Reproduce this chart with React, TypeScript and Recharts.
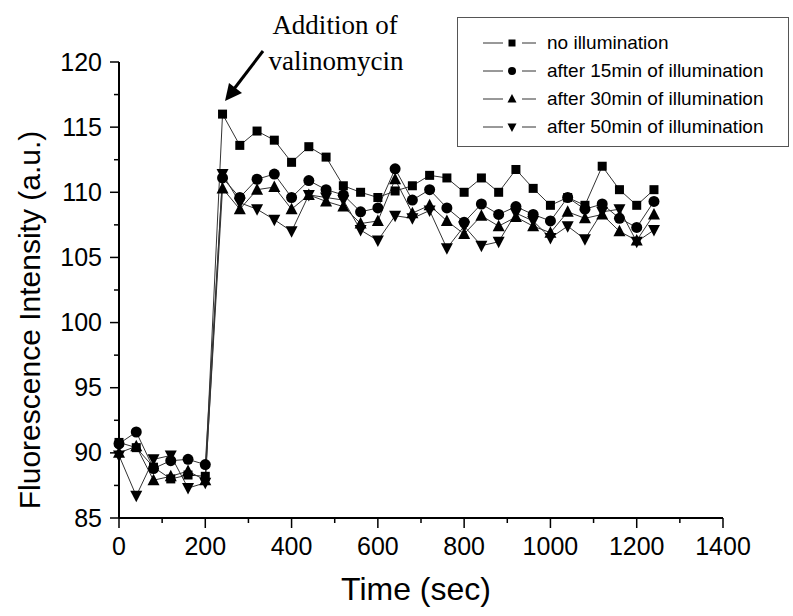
import { LineChart, Line, XAxis, YAxis, Legend } from 'recharts'

const TIME = [0, 40, 80, 120, 160, 200, 240, 280, 320, 360, 400, 440, 480, 520, 560, 600, 640, 680, 720, 760, 800, 840, 880, 920, 960, 1000, 1040, 1080, 1120, 1160, 1200, 1240]

const NO_ILLUM = [90.8, 90.4, 88.9, 88.0, 88.3, 88.2, 116.0, 113.6, 114.7, 114.0, 112.3, 113.5, 112.7, 110.5, 110.0, 109.6, 110.1, 110.5, 111.3, 111.1, 110.0, 111.1, 110.0, 111.75, 110.3, 109.0, 109.6, 109.0, 112.0, 110.2, 109.0, 110.2]
const ILLUM_15 = [90.7, 91.6, 88.8, 89.4, 89.5, 89.1, 111.1, 109.6, 111.0, 111.4, 109.6, 110.9, 110.2, 109.8, 108.5, 108.8, 111.8, 109.4, 110.2, 108.8, 107.7, 109.1, 108.3, 108.9, 108.3, 107.8, 109.6, 108.7, 109.1, 108.0, 107.3, 109.3]
const ILLUM_30 = [90.0, 90.5, 87.9, 88.2, 88.6, 87.9, 110.3, 108.7, 110.2, 110.4, 108.7, 109.8, 109.3, 108.9, 107.6, 107.8, 111.0, 108.4, 109.0, 107.8, 106.8, 108.2, 107.4, 108.1, 107.4, 106.9, 108.5, 108.0, 108.3, 107.0, 106.3, 108.3]
const ILLUM_50 = [89.8, 86.7, 89.5, 89.8, 87.3, 87.7, 111.4, 109.2, 108.7, 107.9, 107.0, 109.8, 109.6, 109.4, 107.1, 106.3, 108.2, 108.0, 108.6, 105.7, 107.4, 105.9, 106.2, 108.4, 107.8, 106.5, 107.4, 106.4, 108.5, 108.7, 106.2, 107.1]

const SERIES_NAMES = ['no illumination', 'after 15min of illumination', 'after 30min of illumination', 'after 50min of illumination']
const SERIES_KEYS = ['s0', 's1', 's2', 's3']
const SHAPES = ['square', 'circle', 'up', 'down'] as const

const X_TICKS = [0, 100, 200, 300, 400, 500, 600, 700, 800, 900, 1000, 1100, 1200, 1300, 1400]
const Y_TICKS = [85, 87.5, 90, 92.5, 95, 97.5, 100, 102.5, 105, 107.5, 110, 112.5, 115, 117.5, 120]

const data = TIME.map((t, i) => ({
  t,
  s0: NO_ILLUM[i],
  s1: ILLUM_15[i],
  s2: ILLUM_30[i],
  s3: ILLUM_50[i],
}))

const SANS = '"Liberation Sans", Arial, sans-serif'
const SERIF = '"Liberation Serif", "Times New Roman", serif'
const LINE = '#333'

type Shape = (typeof SHAPES)[number]

function Marker({ shape, cx, cy, size }: { shape: Shape; cx: number; cy: number; size: number }) {
  const h = size / 2
  if (shape === 'square') return <rect x={cx - h} y={cy - h} width={size} height={size} fill="#000" />
  if (shape === 'circle') return <circle cx={cx} cy={cy} r={h + 0.5} fill="#000" />
  const w = h + 1
  if (shape === 'up')
    return <polygon points={`${cx},${cy - h - 1.5} ${cx + w},${cy + h} ${cx - w},${cy + h}`} fill="#000" />
  return <polygon points={`${cx},${cy + h + 1.5} ${cx + w},${cy - h} ${cx - w},${cy - h}`} fill="#000" />
}

function XTick({ x, y, payload }: any) {
  const major = payload.value % 200 === 0
  return (
    <g>
      <line x1={x} x2={x} y1={y} y2={y + (major ? 10 : 5)} stroke="#000" strokeWidth={1.5} />
      {major && (
        <text x={x} y={y + 37} textAnchor="middle" fontFamily={SANS} fontSize={25} fill="#000">
          {payload.value}
        </text>
      )}
    </g>
  )
}

function YTick({ x, y, payload }: any) {
  const major = payload.value % 5 === 0
  return (
    <g>
      <line x1={x} x2={x - (major ? 9 : 5)} y1={y} y2={y} stroke="#000" strokeWidth={1.5} />
      {major && (
        <text x={x - 17} y={y + 8.5} textAnchor="end" fontFamily={SANS} fontSize={25} fill="#000">
          {payload.value}
        </text>
      )}
    </g>
  )
}

function LegendBox() {
  return (
    <div
      style={{
        width: 330,
        height: 117,
        border: '1.5px solid #555',
        background: '#fff',
        boxSizing: 'content-box',
        paddingTop: 11,
        fontFamily: SANS,
        fontSize: 19,
        color: '#000',
        overflow: 'hidden',
      }}
    >
      {SERIES_NAMES.map((name, i) => (
        <div key={name} style={{ display: 'flex', alignItems: 'center', height: 28 }}>
          <svg width={89} height={20} style={{ display: 'block' }}>
            <line x1={25} x2={45} y1={10} y2={10} stroke={LINE} strokeWidth={1} />
            <line x1={64} x2={78} y1={10} y2={10} stroke={LINE} strokeWidth={1} />
            <Marker shape={SHAPES[i]} cx={54} cy={10} size={7} />
          </svg>
          <span>{name}</span>
        </div>
      ))}
    </div>
  )
}

export default function App() {
  return (
    <div style={{ position: 'absolute', left: 0, top: 0, width: 793, height: 616, background: '#fff' }}>
      <LineChart width={793} height={616} data={data} margin={{ top: 62, right: 70, left: 0, bottom: 38 }}>
        <XAxis
          dataKey="t"
          type="number"
          domain={[0, 1400]}
          ticks={X_TICKS}
          interval={0}
          height={60}
          tickSize={0}
          tickMargin={0}
          tickLine={false}
          tick={<XTick />}
          axisLine={{ stroke: '#000', strokeWidth: 2 }}
          label={{
            content: ({ viewBox }: any) => (
              <text
                x={viewBox.x + viewBox.width / 2 - 5}
                y={viewBox.y + 82}
                textAnchor="middle"
                fontFamily={SANS}
                fontSize={32}
                fill="#000"
              >
                Time (sec)
              </text>
            ),
          }}
        />
        <YAxis
          type="number"
          domain={[85, 120]}
          ticks={Y_TICKS}
          interval={0}
          width={119}
          tickSize={0}
          tickMargin={0}
          tickLine={false}
          tick={<YTick />}
          axisLine={{ stroke: '#000', strokeWidth: 2 }}
          label={{
            content: ({ viewBox }: any) => {
              const cx = viewBox.x + 40
              const cy = viewBox.y + viewBox.height / 2 + 30
              return (
                <text
                  x={cx}
                  y={cy}
                  transform={`rotate(-90 ${cx} ${cy})`}
                  textAnchor="middle"
                  fontFamily={SANS}
                  fontSize={30}
                  fill="#000"
                >
                  Fluorescence Intensity (a.u.)
                </text>
              )
            },
          }}
        />
        <Legend
          layout="vertical"
          align="center"
          verticalAlign="middle"
          content={<LegendBox />}
          wrapperStyle={{ top: 17, left: 457, width: 333 }}
        />
        {SERIES_KEYS.map((key, i) => (
          <Line
            key={key}
            dataKey={key}
            name={SERIES_NAMES[i]}
            stroke={LINE}
            strokeWidth={1}
            isAnimationActive={false}
            dot={(p: any) => <Marker key={`${key}-${p.index}`} shape={SHAPES[i]} cx={p.cx} cy={p.cy} size={i === 0 ? 9 : 10} />}
            activeDot={false}
          />
        ))}
      </LineChart>
      <svg
        width={793}
        height={616}
        style={{ position: 'absolute', left: 0, top: 0, pointerEvents: 'none' }}
      >
        <text x={335} y={34} textAnchor="middle" fontFamily={SERIF} fontSize={27} fill="#000">
          Addition of
        </text>
        <text x={336} y={70} textAnchor="middle" fontFamily={SERIF} fontSize={27} fill="#000">
          valinomycin
        </text>
        <line x1={263} y1={51} x2={234} y2={89} stroke="#000" strokeWidth={3} />
        <polygon points="225,101 229,83 242,93" fill="#000" />
      </svg>
    </div>
  )
}
